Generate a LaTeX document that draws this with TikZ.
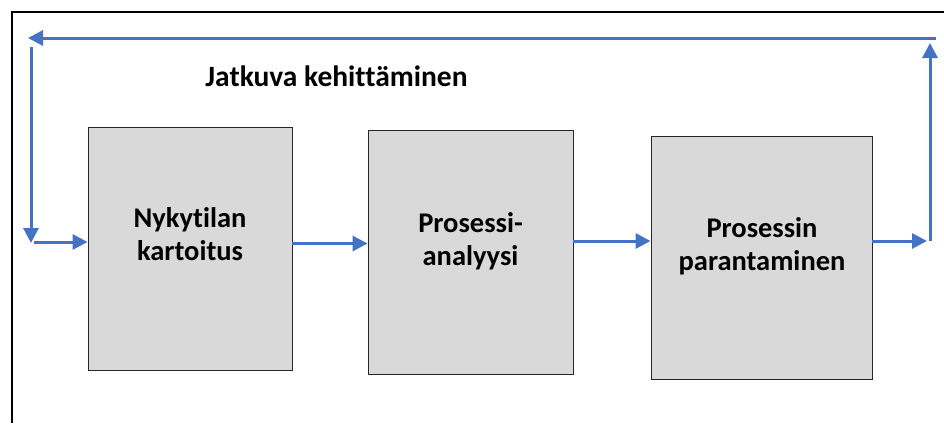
\documentclass[tikz,border=0pt]{standalone}
\usepackage{fontspec}
\setmainfont[Ligatures=NoCommon]{Carlito}
\usetikzlibrary{arrows.meta,shadows}
\definecolor{flowblue}{HTML}{4472C4}
\definecolor{boxgray}{HTML}{D9D9D9}
\tikzset{
  stage/.style={draw=black!85, line width=0.9pt, fill=boxgray,
    drop shadow={shadow xshift=1.4pt, shadow yshift=-1.4pt, fill=black!55, opacity=1},
    inner sep=0pt},
  stagetext/.style={font=\fontsize{28.5}{33}\selectfont\bfseries, align=center, anchor=base, inner sep=0pt},
  flow/.style={draw=flowblue, line width=3pt, -{Triangle[length=15pt,width=15pt]}}
}
\begin{document}
\begin{tikzpicture}[x=1pt,y=-1pt]
\useasboundingbox (0,0) rectangle (944,423);
% outer frame (left and top edges)
\draw[line width=1.4pt] (12,423) -- (12,12) -- (944,12);

% process stages
\node[stage, minimum width=204pt, minimum height=243pt] (b1) at (190,248.5) {};
\node[stage, minimum width=205pt, minimum height=244pt] (b2) at (470.5,252) {};
\node[stage, minimum width=221pt, minimum height=243pt] (b3) at (761.5,257.5) {};

% stage labels (anchored on the baseline of the last line)
\node[stagetext] (t1) at (190,260) {Nykytilan\\kartoitus};
\node[stagetext] (t2) at (470.5,265) {Prosessi-\\analyysi};
\node[stagetext] (t3) at (762,270) {Prosessin\\parantaminen};

\node[font=\fontsize{29.5}{34}\selectfont\bfseries, anchor=base, inner sep=0pt] (title) at (336.5,86) {Jatkuva kehittäminen};

% loop corner points
\coordinate (inL) at (34,242);
\coordinate (outR) at (875,241);
\coordinate (upB) at (930,241);
\coordinate (upT) at (930,43);
\coordinate (topR) at (936,38);
\coordinate (topL) at (28,38);
\coordinate (downT) at (31,47);
\coordinate (downB) at (31,243);

% forward flow between stages
\draw[flow] (inL) -- (b1.west |- inL);
\draw[flow] (b1.east |- 0,243.5) -- (b2.west |- 0,243.5);
\draw[flow] (b2.east |- 0,241) -- (b3.west |- 0,241);
\draw[flow] (b3.east |- outR) -- (927,241);

% feedback loop
\draw[flow] (upB) -- (upT);
\draw[flow] (topR) -- (topL);
\draw[flow] (downT) -- (downB);
\end{tikzpicture}
\end{document}
